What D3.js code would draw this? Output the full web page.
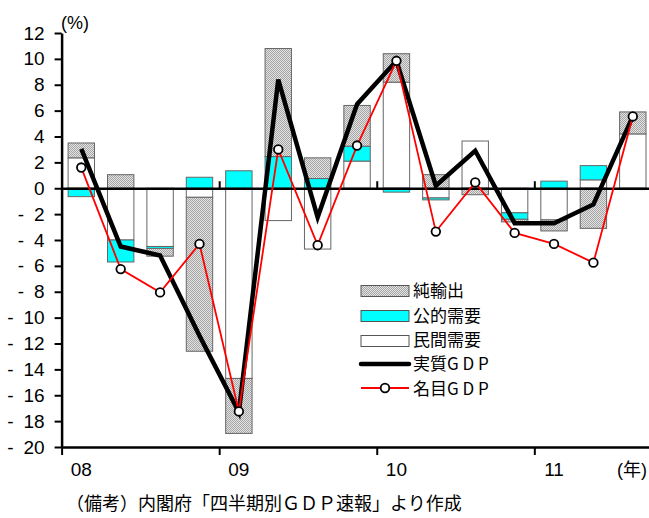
<!DOCTYPE html>
<html>
<head>
<meta charset="utf-8">
<script src="https://cdn.jsdelivr.net/npm/d3@7"></script>
<style>
  body { margin: 0; background: #fff; }
  svg text { font-family: "Liberation Sans", Arial, "Noto Sans CJK JP", sans-serif; fill: #000; }
  svg text.jp { font-family: "Noto Sans CJK JP", sans-serif; }
</style>
</head>
<body>
<div id="chart"></div>
<script>
// data (寄与度, %)
const quarters = ['08Q1','08Q2','08Q3','08Q4','09Q1','09Q2','09Q3','09Q4','10Q1','10Q2','10Q3','10Q4','11Q1','11Q2','11Q3']
const yearLabels = ['08', '09', '10', '11']
const yearStarts = ['08Q1', '09Q1', '10Q1', '11Q1']
const privateDemand = [2.35, -4.0, -4.5, -0.7, -14.7, -2.5, -4.7, 2.1, 8.2, -0.75, 3.65, -1.9, -2.45, 0.65, 4.2]
const publicDemand = [-0.65, -1.7, -0.15, 0.85, 1.35, 2.45, 0.75, 1.15, -0.3, -0.15, 0, -0.5, 0.55, 1.1, -0.1]
const netExports = [1.15, 1.05, -0.6, -11.9, -4.25, 8.35, 1.6, 3.15, 2.2, 1.05, -0.5, -0.2, -0.85, -3.1, 1.7]
const realGDP = [3.05, -4.5, -5.2, -11.4, -17.3, 8.4, -2.25, 6.5, 9.85, 0.2, 2.9, -2.7, -2.7, -1.25, 5.55]
const nominalGDP = [1.6, -6.25, -8.05, -4.3, -17.25, 3.0, -4.4, 3.3, 9.85, -3.35, 0.45, -3.45, -4.3, -5.75, 5.55]
const yTicks = [12, 10, 8, 6, 4, 2, 0, -2, -4, -6, -8, -10, -12, -14, -16, -18, -20]
const yearTickIdx = [0, 4, 8, 12]

// consts
const width = 649, height = 518
const plotLeft = 61.6, plotRight = 652.5, plotTop = 33, plotBottom = 447

const svg = d3.select('#chart').append('svg')
    .attr('width', width)
    .attr('height', height)

// scales
const x = d3.scaleBand()
    .domain(quarters)
    .range([plotLeft, plotRight])
    .paddingInner(0.33)
    .paddingOuter(0.165)
const xq = d3.scaleLinear()
    .domain([0, quarters.length])
    .range([plotLeft, plotRight])
const y = d3.scaleLinear()
    .domain([-20, 12])
    .range([plotBottom, plotTop])
const cx = q => x(q) + x.bandwidth() / 2

// fine dither for 純輸出
const pat = svg.append('defs').append('pattern')
    .attr('id', 'hatch')
    .attr('width', 2).attr('height', 2)
    .attr('patternUnits', 'userSpaceOnUse')
pat.append('rect').attr('width', 2).attr('height', 2).attr('fill', '#e2e2e2')
pat.append('rect').attr('x', 0).attr('y', 0).attr('width', 1).attr('height', 1).attr('fill', '#a6a6a6')
pat.append('rect').attr('x', 1).attr('y', 1).attr('width', 1).attr('height', 1).attr('fill', '#a6a6a6')

const keys = ['private', 'public', 'net']
const fills = { private: '#ffffff', public: '#00ffff', net: 'url(#hatch)' }
const rows = quarters.map((q, i) => ({ q, private: privateDemand[i], public: publicDemand[i], net: netExports[i] }))
const stacked = d3.stack().keys(keys).offset(d3.stackOffsetDiverging)(rows)

// bars
stacked.forEach(s => {
    svg.append('g')
        .selectAll('rect')
        .data(s.filter(d => d[1] !== d[0]))
        .enter()
        .append('rect')
        .attr('x', d => x(d.data.q))
        .attr('width', x.bandwidth())
        .attr('y', d => y(Math.max(d[0], d[1])))
        .attr('height', d => Math.abs(y(d[0]) - y(d[1])))
        .attr('fill', fills[s.key])
        .attr('stroke', '#666')
        .attr('stroke-width', 1)
})

// y axis
const yAxis = svg.append('g')
    .attr('transform', `translate(${plotLeft},0)`)
    .call(d3.axisLeft(y).tickValues(yTicks).tickSize(7).tickSizeOuter(0).tickPadding(10))
yAxis.attr('font-family', null).attr('font-size', null)
yAxis.select('.domain').attr('stroke', '#000').attr('stroke-width', 2.5)
yAxis.selectAll('.tick line').attr('stroke', '#000').attr('stroke-width', 2)
yAxis.selectAll('.tick text')
    .attr('font-size', 19)
    .each(function (d) {
        if (d < 0) {
            const t = d3.select(this).text(null)
            t.append('tspan').text('-')
            t.append('tspan').attr('dx', 10).text(-d)
        }
    })

// zero line with year ticks
const zeroAxis = svg.append('g')
    .attr('transform', `translate(0,${y(0)})`)
    .call(d3.axisTop(xq).tickValues(yearTickIdx.slice(1)).tickSize(7).tickSizeOuter(0).tickFormat(''))
zeroAxis.select('.domain').attr('stroke', '#000').attr('stroke-width', 2.5)
zeroAxis.selectAll('.tick line').attr('stroke', '#000').attr('stroke-width', 2)

// bottom axis
const xAxis = svg.append('g')
    .attr('transform', `translate(0,${y(-20)})`)
    .call(d3.axisBottom(xq).tickValues(yearTickIdx).tickSize(8).tickSizeOuter(0).tickFormat(''))
xAxis.select('.domain').attr('stroke', '#000').attr('stroke-width', 2.5)
xAxis.selectAll('.tick line').attr('stroke', '#000').attr('stroke-width', 2)

svg.append('g')
    .selectAll('text')
    .data(yearLabels)
    .enter()
    .append('text')
    .attr('x', (d, i) => cx(yearStarts[i]))
    .attr('y', 476)
    .attr('text-anchor', 'middle')
    .attr('font-size', 19)
    .text(d => d)

svg.append('text')
    .attr('x', 632).attr('y', 476)
    .attr('text-anchor', 'middle')
    .attr('font-size', 18)
    .text('(年)')

svg.append('text')
    .attr('x', 61).attr('y', 29)
    .attr('font-size', 18)
    .text('(%)')

// lines
const lineGen = d3.line()
    .x((d, i) => cx(quarters[i]))
    .y(d => y(d))

svg.append('path')
    .attr('d', lineGen(realGDP))
    .attr('fill', 'none')
    .attr('stroke', '#000')
    .attr('stroke-width', 4.5)
    .attr('stroke-linejoin', 'miter')

svg.append('path')
    .attr('d', lineGen(nominalGDP))
    .attr('fill', 'none')
    .attr('stroke', '#ff0000')
    .attr('stroke-width', 1.8)

svg.append('g')
    .selectAll('circle')
    .data(nominalGDP)
    .enter()
    .append('circle')
    .attr('cx', (d, i) => cx(quarters[i]))
    .attr('cy', d => y(d))
    .attr('r', 4.3)
    .attr('fill', '#fff')
    .attr('stroke', '#000')
    .attr('stroke-width', 1.8)

// legend
const legend = svg.append('g').attr('transform', 'translate(361,0)')
const boxItems = [
    { fill: fills.net, y: 291 },
    { fill: fills.public, y: 316 },
    { fill: fills.private, y: 341 }
]
boxItems.forEach(e => {
    legend.append('rect')
        .attr('x', 0).attr('y', e.y - 5.5)
        .attr('width', 48).attr('height', 11)
        .attr('fill', e.fill)
        .attr('stroke', '#555')
        .attr('stroke-width', 1)
})
legend.append('line')
    .attr('x1', 0).attr('x2', 48).attr('y1', 364).attr('y2', 364)
    .attr('stroke', '#000').attr('stroke-width', 4.5)
    .attr('stroke-linecap', 'round')
legend.append('line')
    .attr('x1', 0).attr('x2', 48).attr('y1', 388).attr('y2', 388)
    .attr('stroke', '#ff0000').attr('stroke-width', 1.8)
legend.append('circle')
    .attr('cx', 24).attr('cy', 388).attr('r', 4.3)
    .attr('fill', '#fff').attr('stroke', '#000').attr('stroke-width', 1.8)

const legendLabels = [
    { label: '純輸出', y: 291 },
    { label: '公的需要', y: 316 },
    { label: '民間需要', y: 340 },
    { label: '実質G D P', y: 364 },
    { label: '名目G D P', y: 389 }
]
legend.selectAll('text.lg')
    .data(legendLabels)
    .enter()
    .append('text')
    .attr('class', 'jp')
    .attr('x', 52)
    .attr('y', d => d.y)
    .attr('dy', '0.36em')
    .attr('font-size', 17)
    .text(d => d.label)

// source note
svg.append('text')
    .attr('class', 'jp')
    .attr('x', 66).attr('y', 510)
    .attr('font-size', 18)
    .text('（備考）内閣府「四半期別ＧＤＰ速報」より作成')
</script>
</body>
</html>
